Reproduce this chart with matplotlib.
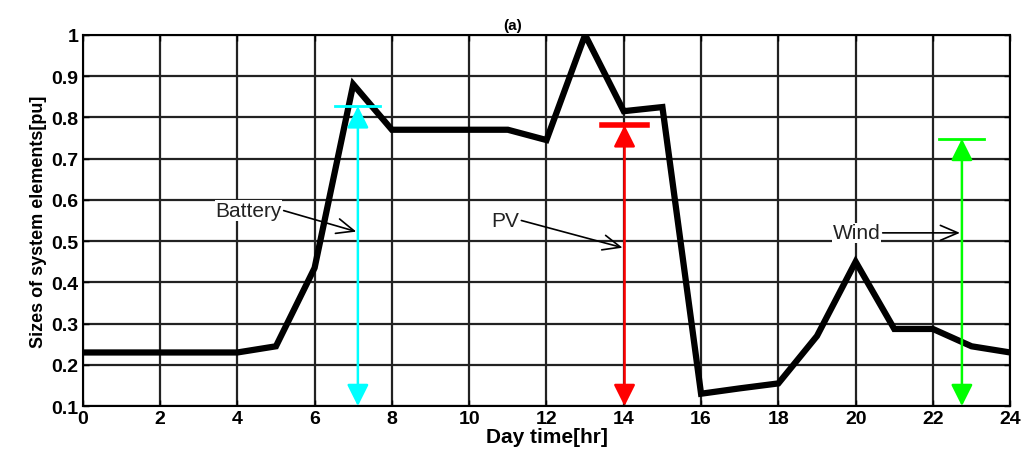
import matplotlib
matplotlib.use("Agg")
import matplotlib.pyplot as plt

plt.rcParams['font.family'] = ['Liberation Sans', 'DejaVu Sans']
plt.rcParams['font.weight'] = 'bold'

# 日時（時間）と系統要素サイズ
hours = [0, 1, 2, 3, 4, 5, 6, 7, 8, 9, 10, 11, 12, 13, 14, 15, 16, 17, 18, 19, 20, 21, 22, 23, 24]
sizes = [0.23, 0.23, 0.23, 0.23, 0.23, 0.245, 0.435, 0.88, 0.77, 0.77, 0.77, 0.77, 0.745, 1.0,
         0.815, 0.825, 0.13, 0.143, 0.155, 0.27, 0.45, 0.287, 0.287, 0.245, 0.23]

# 各要素の定格（矢印）
elem_names = ["Battery", "PV", "Wind"]
elem_x = [7.12, 14.02, 22.75]
elem_top = [0.827, 0.781, 0.748]
elem_colors = ["#00ffff", "#ff0000", "#00ff00"]
label_start = [(5.2, 0.574), (11.35, 0.55), (20.7, 0.52)]
label_tip = [(7.08, 0.523), (13.97, 0.484), (22.7, 0.52)]

fig = plt.figure(figsize=(10.34, 4.6), dpi=100)
ax = fig.add_axes([0.080, 0.115, 0.897, 0.807])

ax.plot(hours, sizes, color="black", linewidth=4.5, solid_joinstyle="miter", zorder=3)

for i in range(len(elem_names)):
    x = elem_x[i]
    c = elem_colors[i]
    ax.annotate("", xy=(x, 0.1), xytext=(x, elem_top[i]),
                arrowprops=dict(arrowstyle="<|-|>,head_length=0.6,head_width=0.3", color=c,
                                lw=1.8, mutation_scale=22, shrinkA=0, shrinkB=0), zorder=4)
    bw = 4 if i == 1 else 2
    ax.plot([x - 0.58, x + 0.58], [elem_top[i], elem_top[i]], color=c, linewidth=bw, zorder=4)
    ax.text(label_start[i][0] - 0.05, label_start[i][1], elem_names[i], fontsize=15,
            fontweight='normal', color="#222222", va="center", ha="right", zorder=5,
            bbox=dict(facecolor="white", edgecolor="none", pad=0.5))
    ax.annotate("", xy=label_tip[i], xytext=label_start[i],
                arrowprops=dict(arrowstyle="->,head_length=0.7,head_width=0.3", color="black",
                                lw=1.2, mutation_scale=18, shrinkA=0, shrinkB=0), zorder=5)

ax.set_xlim(0, 24)
ax.set_ylim(0.1, 1.0)
ax.set_xticks(range(0, 25, 2))
ax.set_yticks([0.1, 0.2, 0.3, 0.4, 0.5, 0.6, 0.7, 0.8, 0.9, 1.0])
ax.set_yticklabels(["0.1", "0.2", "0.3", "0.4", "0.5", "0.6", "0.7", "0.8", "0.9", "1"])
ax.grid(True, color="#222222", linewidth=1.6, linestyle="-")
ax.tick_params(direction="in", length=4, labelsize=14, top=True, right=True, width=1, pad=3)
for s in ax.spines.values():
    s.set_linewidth(1.5)

ax.set_title("(a)", fontsize=11, fontweight="bold", x=0.464, pad=4)
ax.set_xlabel("Day time[hr]", fontsize=15, fontweight="bold", labelpad=0)
ax.set_ylabel("Sizes of system elements[pu]", fontsize=13, fontweight="bold", labelpad=3)

fig.savefig("out.png", dpi=100)
